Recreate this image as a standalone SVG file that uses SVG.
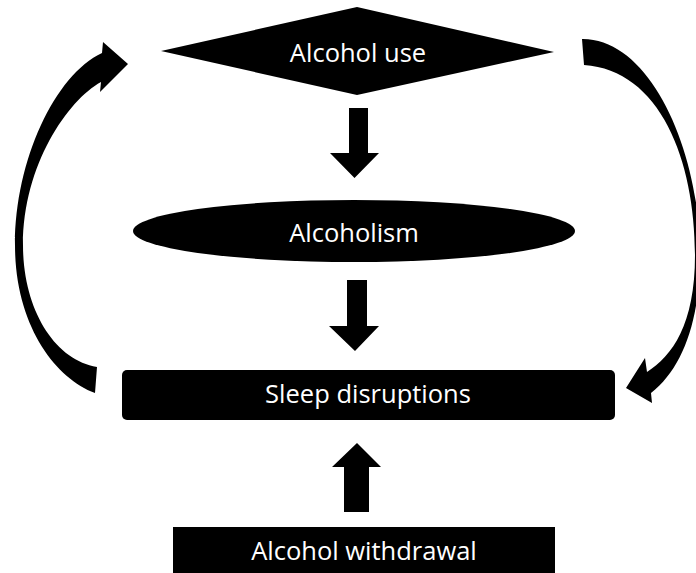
<svg xmlns="http://www.w3.org/2000/svg" width="696" height="573" viewBox="0 0 696 573">
<style>
.shape{fill:#000;stroke:none}
.lbl{font-family:"Open Sans","Noto Sans","DejaVu Sans",sans-serif;font-size:25.5px;fill:#fff;text-anchor:middle}
</style>
<rect width="696" height="573" fill="#fff"/>
<g id="node-alcohol-use">
<polygon class="shape" points="161,51 357,7 554,52 357,95"/>
<text class="lbl" x="358" y="62">Alcohol use</text>
</g>
<g id="node-alcoholism">
<ellipse class="shape" cx="354" cy="231" rx="221" ry="31"/>
<text class="lbl" x="354" y="242">Alcoholism</text>
</g>
<g id="node-sleep">
<rect class="shape" x="122" y="370" width="493" height="50" rx="5"/>
<text class="lbl" x="368" y="403">Sleep disruptions</text>
</g>
<g id="node-withdrawal">
<rect class="shape" x="173" y="527" width="382" height="46"/>
<text class="lbl" x="364" y="560">Alcohol withdrawal</text>
</g>
<g id="connectors">
<polygon class="shape" points="349,108 368,108 368,153 379,153 354.5,178 330,153 349,153"/>
<polygon class="shape" points="347,280 367,280 367,326 379,326 355,351 329,326 347,326"/>
<polygon class="shape" points="344,512 369,512 369,467 381,467 357,443 332,467 344,467"/>
<path class="shape" d="M95,393 C55,378 15,325 15,245 C15,160 55,75 102,53 L103,42 L128,64 L100,92 L101,82 C68,100 23,165 23,245 C23,310 55,360 97,367 Z"/>
<path class="shape" d="M582,39 C650,38 700,150 700,255 C700,320 683,368 651,393 L652,403 L626,388 L645,358 L647,372 C672,356 695,325 695,255 C695,160 660,70 584,65 Z"/>
</g>
</svg>
